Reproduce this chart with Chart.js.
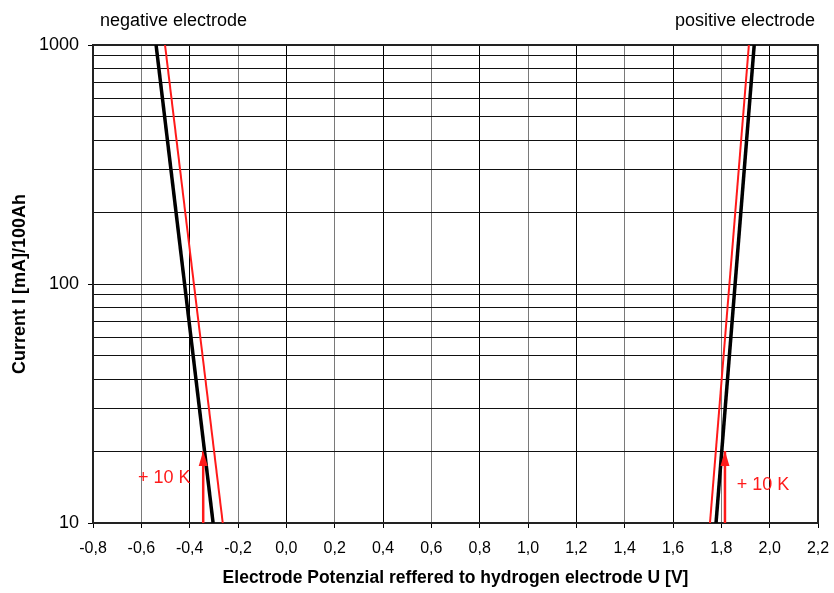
<!DOCTYPE html>
<html>
<head>
<meta charset="utf-8">
<script src="https://cdn.jsdelivr.net/npm/chart.js@4.4.0/dist/chart.umd.min.js"></script>
<style>
    html, body { margin: 0; padding: 0; background: #fff; }
    #wrap { width: 834px; height: 593px; }
</style>
</head>
<body>
<div id="wrap"><canvas id="potChart" width="834" height="593"></canvas></div>
<script>
// current end points of every line (top and bottom of the plot)
const currentEnds = [1000, 10];

// electrode potential U [V] at those currents
const negNormalU = [-0.539, -0.303];
const negWarmU = [-0.502, -0.263];
const posNormalU = [1.936, 1.778];
const posWarmU = [1.914, 1.753];

// "+10 K" arrows
const arrowU = [-0.344, 1.815];
const arrowI = [10, 20];
const arrowText = ['+ 10 K', '+ 10 K'];
const arrowTextU = [-0.505, 1.972];
const arrowTextI = [15.4, 14.4];

// axis ticks
const xTicksMin = -0.8;
const xTicksMax = 2.2;
const yTickValues = [10, 20, 30, 40, 50, 60, 70, 80, 90, 100,
    200, 300, 400, 500, 600, 700, 800, 900, 1000];
const yTickLabels = [10, 100, 1000];

const FONT = '"Liberation Sans", Arial, sans-serif';

document.addEventListener('DOMContentLoaded', () => {
    const ctx = document.getElementById('potChart').getContext('2d');

    const toPoints = (us) => us.map((u, i) => ({ x: u, y: currentEnds[i] }));

    const lineSet = (data, color, width) => ({
        data: data,
        borderColor: color,
        borderWidth: width,
        pointRadius: 0,
        fill: false,
        tension: 0
    });

    const datasets = [
        lineSet(toPoints(negWarmU), '#ff1a1a', 2),
        lineSet(toPoints(posWarmU), '#ff1a1a', 2),
        lineSet(toPoints(negNormalU), '#000', 3.5),
        lineSet(toPoints(posNormalU), '#000', 3.5)
    ];

    arrowU.forEach(u => {
        const ds = lineSet(arrowI.map(i => ({ x: u, y: i })), '#ff1a1a', 2.5);
        ds.isArrow = true;
        datasets.push(ds);
    });

    const extras = {
        id: 'extras',
        beforeDatasetsDraw(chart) {
            const { ctx, chartArea: a } = chart;
            ctx.save();
            ctx.strokeStyle = '#222';
            ctx.lineWidth = 2;
            ctx.strokeRect(a.left, a.top, a.right - a.left, a.bottom - a.top);
            ctx.restore();
        },
        afterDatasetsDraw(chart) {
            const { ctx, scales } = chart;
            ctx.save();
            // arrow heads
            ctx.fillStyle = '#ff1a1a';
            chart.data.datasets.forEach((ds, i) => {
                if (!ds.isArrow) return;
                const pts = chart.getDatasetMeta(i).data;
                const tip = pts[pts.length - 1];
                ctx.beginPath();
                ctx.moveTo(tip.x, tip.y);
                ctx.lineTo(tip.x - 4.5, tip.y + 15);
                ctx.lineTo(tip.x + 4.5, tip.y + 15);
                ctx.closePath();
                ctx.fill();
            });
            // labels
            ctx.font = '18px ' + FONT;
            ctx.textAlign = 'center';
            ctx.textBaseline = 'middle';
            arrowText.forEach((t, i) => {
                ctx.fillText(t, scales.x.getPixelForValue(arrowTextU[i]),
                    scales.y.getPixelForValue(arrowTextI[i]));
            });
            ctx.fillStyle = '#000';
            ctx.textBaseline = 'alphabetic';
            ctx.textAlign = 'left';
            ctx.fillText('negative electrode', 100, 26);
            ctx.textAlign = 'right';
            ctx.fillText('positive electrode', 815, 26);
            ctx.restore();
        }
    };

    new Chart(ctx, {
        type: 'line',
        data: { datasets: datasets },
        options: {
            responsive: false,
            animation: false,
            layout: { padding: { left: 0, right: 16, top: 45, bottom: 0 } },
            plugins: {
                legend: { display: false },
                tooltip: { enabled: false }
            },
            scales: {
                x: {
                    type: 'linear',
                    min: xTicksMin,
                    max: xTicksMax,
                    afterFit: (s) => {
                        s.height = 70;
                        s.paddingLeft = 0;
                        s.paddingRight = 0;
                    },
                    ticks: {
                        stepSize: 0.2,
                        autoSkip: false,
                        maxRotation: 0,
                        padding: 11,
                        color: '#000',
                        font: { family: FONT, size: 16 },
                        callback: (v) => (Math.round(v * 10) / 10).toFixed(1).replace('.', ',')
                    },
                    grid: {
                        color: (c) => (c.index % 2 ? '#7a7a7a' : '#000'),
                        lineWidth: 1,
                        tickLength: 5,
                        tickColor: '#000'
                    },
                    border: { color: '#000', width: 2 },
                    title: {
                        display: true,
                        text: 'Electrode Potenzial reffered to hydrogen electrode U [V]',
                        color: '#000',
                        font: { family: FONT, size: 17.5, weight: 'bold' },
                        padding: { top: 0, bottom: 4 }
                    }
                },
                y: {
                    type: 'logarithmic',
                    min: 10,
                    max: 1000,
                    afterFit: (s) => { s.width = 93; },
                    afterBuildTicks: (axis) => {
                        axis.ticks = yTickValues.map(v => ({ value: v }));
                    },
                    ticks: {
                        autoSkip: false,
                        padding: 9,
                        color: '#000',
                        font: { family: FONT, size: 18 },
                        callback: (v) => (yTickLabels.includes(v) ? String(v) : '')
                    },
                    grid: {
                        color: '#111',
                        lineWidth: 1,
                        tickLength: 5,
                        tickColor: (c) => (c.tick && yTickLabels.includes(c.tick.value) ? '#000' : 'rgba(0,0,0,0)')
                    },
                    border: { color: '#000', width: 2 },
                    title: {
                        display: true,
                        text: 'Current I [mA]/100Ah',
                        color: '#000',
                        font: { family: FONT, size: 18, weight: 'bold' },
                        padding: { top: 9, bottom: 0 }
                    }
                }
            }
        },
        plugins: [extras]
    });
});
</script>
</body>
</html>
